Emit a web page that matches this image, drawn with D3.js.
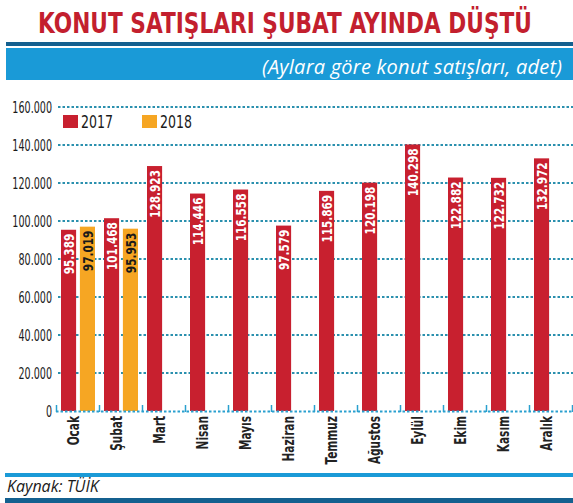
<!DOCTYPE html>
<html><head><meta charset="utf-8">
<script src="https://cdn.jsdelivr.net/npm/d3@7"></script>
<style>
html,body{margin:0;padding:0;background:#fff;}
svg{display:block;}
</style></head>
<body>
<svg id="c" width="573" height="503"></svg>
<script>
const title = "KONUT SATIŞLARI ŞUBAT AYINDA DÜŞTÜ";
const subtitle = "(Aylara göre konut satışları, adet)";
const source = "Kaynak: TÜİK";
const months = ["Ocak","Şubat","Mart","Nisan","Mayıs","Haziran","Temmuz","Ağustos","Eylül","Ekim","Kasım","Aralık"];
const years = ["2017","2018"];
const sales2017 = [95389,101468,128923,114446,116558,97579,115869,120198,140298,122882,122732,132972];
const sales2018 = [97019,95953];
const yTicks = [0,20000,40000,60000,80000,100000,120000,140000,160000];

const colors = {"2017":"#c8202f","2018":"#f6a623"};
const labelColors = {"2017":"#ffffff","2018":"#1a1a1a"};

const locale = d3.formatLocale({decimal:",", thousands:".", grouping:[3], currency:["",""]});
const fmt = locale.format(",");

const svg = d3.select("#c");
const FONT = "'DejaVu Sans', sans-serif";
const IT = "'Open Sans', sans-serif";

// header
const tg = svg.append("g");
const tt = tg.append("text").attr("x",0).attr("y",0)
  .style("font-family",FONT).style("font-weight","bold").style("font-size","29px")
  .attr("fill","#c31f2e").text(title);
const tlen = tt.node().getComputedTextLength() || 750;
tg.attr("transform",`translate(38,32.5) scale(${494/tlen},1)`);

svg.append("rect").attr("x",6).attr("y",42).attr("width",567).attr("height",4).attr("fill","#14608f");
svg.append("rect").attr("x",6).attr("y",48).attr("width",567).attr("height",32).attr("fill","#1a9ad7");
svg.append("text").attr("x",562).attr("y",74).attr("text-anchor","end")
  .attr("textLength",300).attr("lengthAdjust","spacing")
  .style("font-family",IT).style("font-style","italic").style("font-size","20px")
  .attr("fill","#fff").text(subtitle);

// scales
const y = d3.scaleLinear().domain([0,160000]).range([411,107]);
const x0 = d3.scaleBand().domain(months).range([56,572]);
const x1 = d3.scaleBand().domain(years).range([5,39]).paddingInner(0.2);

// gridlines
const grid = svg.append("g");
grid.selectAll("line").data(yTicks.filter(d=>d>0)).join("line")
  .attr("x1",58).attr("x2",573).attr("y1",d=>y(d)).attr("y2",d=>y(d))
  .attr("stroke","#2a90ae").attr("stroke-width",2).attr("stroke-dasharray","2.5,2");

// y axis labels via axis generator
const yAxis = svg.append("g").attr("transform","translate(52,0)")
  .call(d3.axisLeft(y).tickValues(yTicks).tickSize(0).tickPadding(0).tickFormat(fmt));
yAxis.select(".domain").remove();
yAxis.selectAll("text").attr("x",0).attr("dy","0.36em").attr("text-anchor","end")
  .attr("transform","scale(0.6,1)")
  .style("font-family",FONT).style("font-size","16px").attr("fill","#1a1a1a");

// legend
const leg = svg.append("g");
const legX = {"2017":63,"2018":142};
years.forEach(yr=>{
  leg.append("rect").attr("x",legX[yr]).attr("y",115).attr("width",15).attr("height",13).attr("fill",colors[yr]);
  leg.append("g").attr("transform",`translate(${legX[yr]+18},128) scale(0.74,1)`)
    .append("text").style("font-family",FONT).style("font-size","17px").attr("fill","#1a1a1a").text(yr);
});

// data table
const data = months.map((m,i)=>({month:m, values:[
  {year:"2017", v:sales2017[i]},
  ...(sales2018[i]!==undefined ? [{year:"2018", v:sales2018[i]}] : [])
]}));

const groups = svg.append("g").selectAll("g").data(data).join("g")
  .attr("transform",d=>`translate(${x0(d.month)},0)`);
groups.selectAll("rect").data(d=>d.values).join("rect")
  .attr("x",d=>x1(d.year)).attr("width",x1.bandwidth())
  .attr("y",d=>y(d.v)).attr("height",d=>y(0)-y(d.v))
  .attr("fill",d=>colors[d.year]);
groups.selectAll("g.lbl").data(d=>d.values).join("g").attr("class","lbl")
  .attr("transform",d=>`translate(${x1(d.year)+x1.bandwidth()/2},${y(d.v)+4}) rotate(-90) scale(0.75,1)`)
  .append("text").attr("text-anchor","end").attr("dy","0.36em")
  .style("font-family",FONT).style("font-weight","bold").style("font-size","14px")
  .attr("fill",d=>labelColors[d.year]).text(d=>fmt(d.v));

// x axis baseline (dotted) with ticks
svg.append("line").attr("x1",56).attr("x2",573).attr("y1",411.5).attr("y2",411.5)
  .attr("stroke","#2aa0cf").attr("stroke-width",2).attr("stroke-dasharray","2.5,2");
const bounds = months.map(m=>x0(m)).concat([x0.range()[1]]);
svg.append("g").selectAll("line").data(bounds).join("line")
  .attr("x1",d=>d+0.5).attr("x2",d=>d+0.5).attr("y1",405).attr("y2",412)
  .attr("stroke","#2aa0cf").attr("stroke-width",1.5);

// month labels
svg.append("g").selectAll("g").data(months).join("g")
  .attr("transform",m=>`translate(${x0(m)+x0.bandwidth()/2-4},416) rotate(-90) scale(0.66,1)`)
  .append("text").attr("text-anchor","end").attr("dy","0.36em")
  .style("font-family",FONT).style("font-weight","bold").style("font-size","16px").attr("fill","#222").text(m=>m);

// footer
svg.append("rect").attr("x",5).attr("y",473).attr("width",568).attr("height",4).attr("fill","#1a9ad7");
svg.append("text").attr("x",7).attr("y",492)
  .style("font-family",IT).style("font-style","italic").style("font-size","16px")
  .attr("fill","#1a1a1a").text(source);
svg.append("rect").attr("x",5).attr("y",498).attr("width",568).attr("height",5).attr("fill","#14608f");
</script>
</body></html>
